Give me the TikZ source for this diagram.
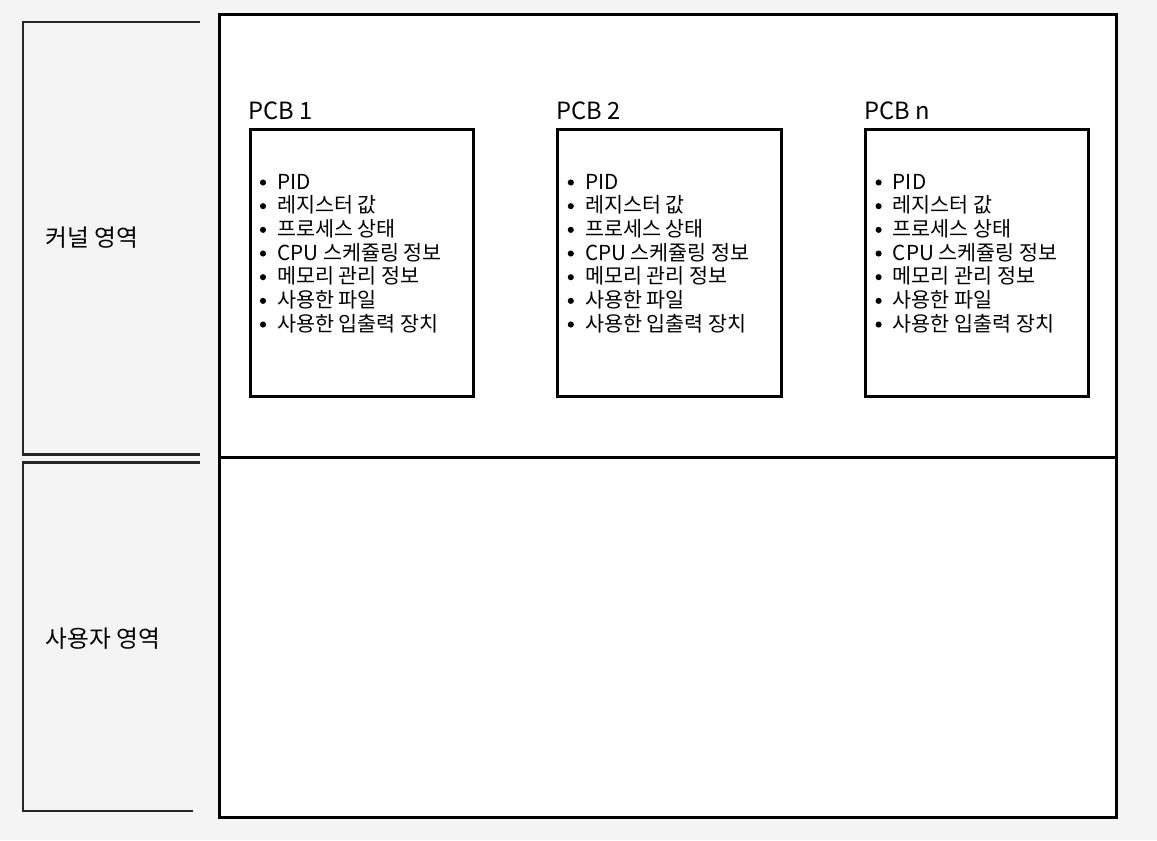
\documentclass[tikz,border=0pt]{standalone}
\usepackage{fontspec}
\setmainfont{Noto Sans CJK KR}
\usetikzlibrary{positioning}
\definecolor{pagegray}{RGB}{244, 244, 244}
\definecolor{inkblack}{RGB}{0, 0, 0}

\begin{document}
\begin{tikzpicture}[x=0.75pt, y=-0.75pt,
  pcbbox/.style={draw=inkblack, line width=2.25pt, fill=white, inner sep=0pt, outer sep=0pt,
    minimum width=167.5pt, minimum height=200.6pt},
  pcbtitle/.style={inner sep=0pt, font=\fontsize{17.8}{21}\selectfont},
  pcbitem/.style={inner sep=0pt, font=\fontsize{15.5}{18}\selectfont},
  arealabel/.style={inner sep=0pt, font=\fontsize{17.8}{21}\selectfont},
  bracket/.style={draw=inkblack!85, line width=1.75pt}]
  \fill[pagegray] (0,0) rectangle (1157,840);
  \useasboundingbox (0,0) rectangle (1157,840);

  % memory area
  \draw[inkblack, line width=2.25pt, fill=white] (219,14.7) rectangle (1116.7,817.3);
  \draw[inkblack, line width=2.25pt] (219,457.5) -- (1116.7,457.5);

  % left brackets
  \draw[bracket] (200,22) -- (22.7,22) -- (22.7,454.5) -- (200,454.5);
  \draw[bracket] (200,462.5) -- (22.7,462.5) -- (22.7,810.8) -- (193.3,810.8);
  \node[arealabel, anchor=base west] (kernel) at (45.5,246) {커널 영역};
  \node[arealabel, anchor=base west] (user) at (45.5,647) {사용자 영역};

  % PCBs
  \foreach \px/\pname [count=\k] in {250/1, 557.8/2, 865.6/n} {
    \node[pcbbox, anchor=north west] (pcb\k) at (\px,129.5) {};
    \node[pcbtitle, anchor=base west] (title\k) at (\px-1.5,119.3) {PCB \pname};
    \foreach \entry [count=\i] in {PID, 레지스터 값, 프로세스 상태, CPU 스케쥴링 정보,
        메모리 관리 정보, 사용한 파일, 사용한 입출력 장치} {
      \fill[inkblack] (\px+13,{182.5+(\i-1)*23.67}) circle (2.3pt);
      \node[pcbitem, anchor=base west] (item\k-\i) at (\px+27,{189+(\i-1)*23.67}) {\entry};
    }
  }
\end{tikzpicture}
\end{document}
